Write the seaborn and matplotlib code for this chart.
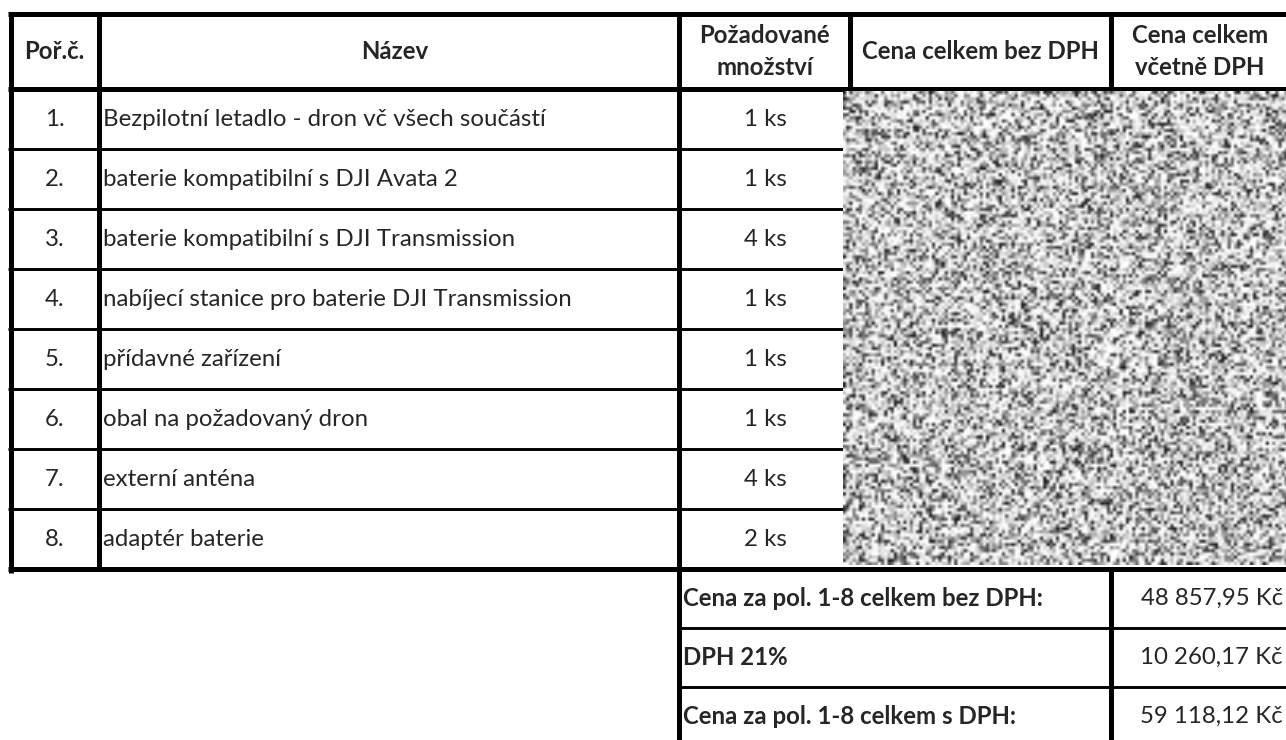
import numpy as np
import seaborn as sns
import matplotlib
matplotlib.use('Agg')
import matplotlib.pyplot as plt

# obsah tabulky
headers = ['Poř.č.', 'Název', 'Požadované\nmnožství', 'Cena celkem bez DPH', 'Cena celkem\nvčetně DPH']
row_numbers = ['1.', '2.', '3.', '4.', '5.', '6.', '7.', '8.']
item_names = [
    'Bezpilotní letadlo - dron vč všech součástí',
    'baterie kompatibilní s DJI Avata 2',
    'baterie kompatibilní s DJI Transmission',
    'nabíjecí stanice pro baterie DJI Transmission',
    'přídavné zařízení',
    'obal na požadovaný dron',
    'externí anténa',
    'adaptér baterie',
]
quantities = [1, 1, 4, 1, 1, 1, 4, 2]
summary_labels = ['Cena za pol. 1-8 celkem bez DPH:', 'DPH 21%', 'Cena za pol. 1-8 celkem s DPH:']
summary_values = ['48 857,95 Kč', '10 260,17 Kč', '59 118,12 Kč']

sns.set_theme(style='white')
plt.rcParams['font.family'] = ['Lato', 'DejaVu Sans']

W, H = 1286, 740
fig = plt.figure(figsize=(W / 100, H / 100), dpi=100)
ax = fig.add_axes([0, 0, 1, 1])

# rozvržení (pixely)
col_x = [10.5, 99, 679, 850, 1111, 1292]
top, head_bot = 14, 89
row_h = 60
table_bot = head_bot + row_h * len(item_names)
sum_h = 59

thick = 3.6
thin = 2.1
k = 'black'

# vodorovné čáry
ax.plot([8, W + 5], [top, top], color=k, lw=thick, solid_capstyle='butt')
ax.plot([8, W + 5], [head_bot, head_bot], color=k, lw=thick, solid_capstyle='butt')
for i in range(1, len(item_names)):
    y = head_bot + i * row_h
    ax.plot([8, 845], [y, y], color=k, lw=thin, solid_capstyle='butt')
ax.plot([8, W + 5], [table_bot, table_bot], color=k, lw=thick, solid_capstyle='butt')
for i in range(1, len(summary_labels)):
    y = table_bot + i * sum_h
    ax.plot([col_x[2], W + 5], [y, y], color=k, lw=thin, solid_capstyle='butt')

# svislé čáry
ax.plot([col_x[0], col_x[0]], [top - 2, table_bot + 4], color=k, lw=thick, solid_capstyle='butt')
ax.plot([col_x[1], col_x[1]], [top - 2, table_bot], color=k, lw=thick, solid_capstyle='butt')
ax.plot([col_x[2], col_x[2]], [top - 2, H + 5], color=k, lw=thick, solid_capstyle='butt')
ax.plot([col_x[3], col_x[3]], [top - 2, head_bot], color=k, lw=thick, solid_capstyle='butt')
ax.plot([col_x[4], col_x[4]], [top - 2, head_bot], color=k, lw=thick, solid_capstyle='butt')
ax.plot([col_x[4], col_x[4]], [table_bot, H + 5], color=k, lw=thick, solid_capstyle='butt')

# začerněná (šumová) oblast s cenami - jen textura, ne data
ny, nx = 150, 140
yy, xx = np.mgrid[0:ny, 0:nx]
h = np.sin(xx * 12.9898 + yy * 78.233) * 43758.5453
u = h - np.floor(h)
tex = 1 - 0.9 * (1 - u) ** 2.2
ax.imshow(tex, cmap='gray', vmin=0, vmax=1, extent=[843, W + 2, 565, 91],
          interpolation='bilinear', aspect='auto', zorder=3)
ax.set_xlim(0, W)
ax.set_ylim(H, 0)
ax.axis('off')

# hlavička
fs = 17.3
head_mid = (top + head_bot) / 2
for j, text in enumerate(headers):
    cx = (col_x[j] + col_x[j + 1]) / 2
    if j == 1:
        cx = 395
    if j == 4:
        cx = 1200
    ax.text(cx, head_mid, text, ha='center', va='center', fontsize=fs,
            fontweight='bold', linespacing=1.5)

# řádky
for i, (num, name, q) in enumerate(zip(row_numbers, item_names, quantities)):
    cy = head_bot + row_h * (i + 0.5)
    ax.text((col_x[0] + col_x[1]) / 2, cy, num, ha='center', va='center', fontsize=fs)
    ax.text(col_x[1] + 4, cy, name, ha='left', va='center', fontsize=fs)
    ax.text(765, cy, f'{q} ks', ha='center', va='center', fontsize=fs)

# souhrn
for i, (lab, val) in enumerate(zip(summary_labels, summary_values)):
    cy = table_bot + sum_h * (i + 0.5)
    ax.text(col_x[2] + 4, cy, lab, ha='left', va='center', fontsize=fs, fontweight='bold')
    ax.text(1283, cy, val, ha='right', va='center', fontsize=fs)

fig.savefig('out.png', dpi=100, facecolor='white')
